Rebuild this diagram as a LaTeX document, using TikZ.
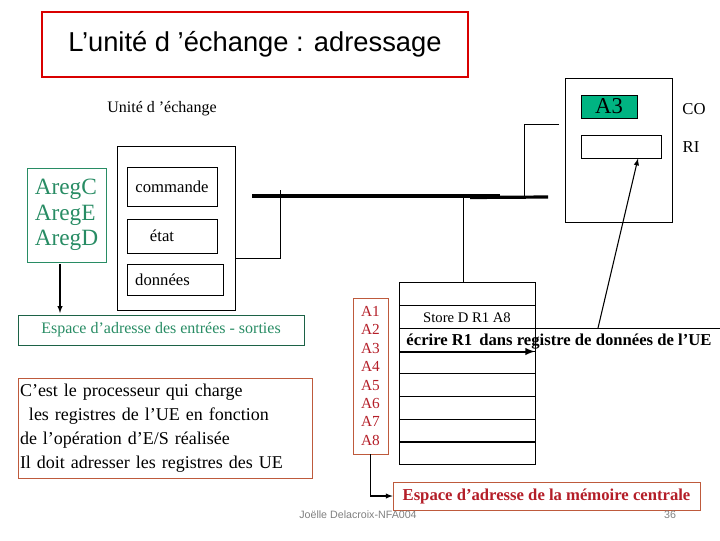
\documentclass[tikz,border=0pt]{standalone}
\usepackage{fontspec}
\setmainfont{Liberation Serif}
\newfontfamily\arial{Liberation Sans}
\begin{document}
\begin{tikzpicture}[x=0.75pt,y=-0.75pt,
 box/.style={draw,line width=0.6pt},
 lbl/.style={inner sep=0pt,font=\fontsize{12.5}{14}\selectfont},
 thickbus/.style={line width=2.4pt}]
\definecolor{tealc}{RGB}{40,140,100}
\definecolor{redc}{RGB}{180,30,40}
\definecolor{orc}{RGB}{190,90,60}
\definecolor{grn}{RGB}{0,180,130}
\useasboundingbox (0,0) rectangle (720,540);
% title
\node[draw=red!85!black,line width=2pt,minimum width=426*0.75pt,minimum height=65*0.75pt] (title) at (255,44.5) {\arial\fontsize{20.5}{22}\selectfont L’unité d ’échange : adressage};
\node[lbl,font=\fontsize{12}{14}\selectfont] (ue) at (162,109) {Unité d ’échange};
% CPU
\node[box,minimum width=107*0.75pt,minimum height=144*0.75pt] (cpu) at (618.5,150) {};
\node[draw,fill=grn,minimum width=56*0.75pt,minimum height=23*0.75pt,inner sep=0pt,font=\fontsize{17}{18}\selectfont] (a3) at (609,106.5) {A3};
\node[box,minimum width=80*0.75pt,minimum height=23*0.75pt] (ri) at (621,146.5) {};
\node[lbl] (co) at (694,109) {CO};
\node[lbl] (rit) at (691,147) {RI};
% bus
\coordinate (b1) at (252,196); \coordinate (b2) at (500,196);
\coordinate (b3) at (548,197);
\draw[thickbus] (b1) -- (b2);
\draw[thickbus] (470,197.5) -- (b3);
\coordinate (c1) at (559,124); \coordinate (c2) at (524,124); \coordinate (c3) at (524,197);
\draw (c1) -- (c2) -- (c3);
% UE
\node[box,minimum width=118*0.75pt,minimum height=164*0.75pt] (uebox) at (176,228) {};
\node[box,minimum width=90*0.75pt,minimum height=39*0.75pt,lbl] (cmd) at (172,186.5) {commande};
\node[box,minimum width=90*0.75pt,minimum height=34*0.75pt,lbl] (etat) at (172,236) {\hspace*{-1.2em}état};
\node[box,minimum width=96*0.75pt,minimum height=31*0.75pt,lbl] (don) at (175,279.5) {\hspace*{-1.5em}données};
\coordinate (u1) at (235,258); \coordinate (u2) at (280,258); \coordinate (u3) at (280,190);
\draw (u1) -- (u2) -- (u3);
% Areg
\node[draw=tealc,minimum width=79*0.75pt,minimum height=94*0.75pt,align=left,text=tealc,font=\fontsize{17.5}{19}\selectfont,inner sep=1pt] (areg) at (66.5,215) {AregC\\AregE\\AregD};
\node[draw=tealc!70!black,minimum width=286*0.75pt,minimum height=30*0.75pt,text=tealc,font=\fontsize{12}{13}\selectfont,inner sep=0pt] (esp) at (161,330) {Espace d’adresse des entrées - sorties};
\draw[-latex,thick] (60,264) -- (60,313);
\node[draw=orc,minimum width=294*0.75pt,minimum height=100*0.75pt,text width=290*0.75pt,align=left,font=\fontsize{13.5}{18}\selectfont,inner xsep=1pt] (proc) at (165,428) {C’est le processeur qui charge\\\ \,les registres de l’UE en fonction\\de l’opération d’E/S réalisée\\Il doit adresser les registres des UE};
% memory labels
\node[draw=orc,minimum width=35*0.75pt,minimum height=156*0.75pt,align=center,text=redc,font=\fontsize{11.5}{13.8}\selectfont,inner sep=1pt] (alab) at (370.5,376) {A1\\A2\\A3\\A4\\A5\\A6\\A7\\A8};
% memory table
\draw[box] (399,282) rectangle (535,464);
\foreach \y in {305,351,373,396,419} \draw (399,\y) -- (535,\y);
\draw[line width=1.5pt] (399,442) -- (535,442);
\coordinate (w1) at (399,328); \coordinate (w2) at (720,328);
\draw (w1) -- (w2);
\node[lbl,font=\fontsize{11}{13}\selectfont] (store) at (467,318) {Store D R1 A8};
\node[lbl,font=\bfseries\fontsize{12.5}{14}\selectfont] (ecr) at (559,342) {écrire R1\, dans registre de données de l’UE};
\draw[line width=1.5pt,-latex] (399,351.5) -- (535,351.5);
\coordinate (m1) at (463,197); \coordinate (m2) at (463,282);
\draw (m1) -- (m2);
\coordinate (r1) at (598,328);
\draw[thick,-latex] (r1) -- (ri.south -| 638,0);
% memory space
\node[draw=orc,minimum width=307*0.75pt,minimum height=28*0.75pt,text=redc,font=\bfseries\fontsize{12.5}{14}\selectfont,inner sep=0pt] (mc) at (546.5,496) {Espace d’adresse de la mémoire centrale};
\draw[thick,-latex] (alab.south) |- (mc.west);
\node[text=gray,font=\arial\fontsize{8}{9}\selectfont] (foot) at (358,515) {Joëlle Delacroix-NFA004};
\node[text=gray,font=\arial\fontsize{8}{9}\selectfont] (num) at (670,515) {36};
\end{tikzpicture}
\end{document}
